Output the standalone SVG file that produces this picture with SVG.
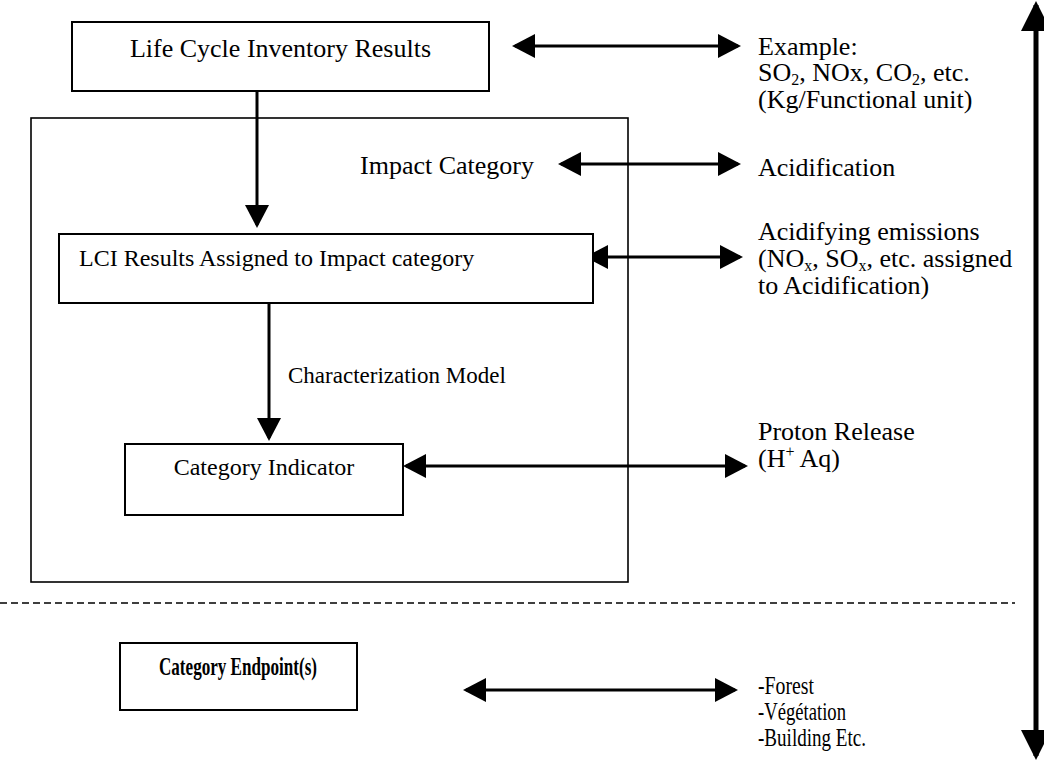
<svg xmlns="http://www.w3.org/2000/svg" width="1044" height="761" viewBox="0 0 1044 761">
<style>
text{font-family:"Liberation Serif","Times New Roman",serif;fill:#000}
.t26{font-size:26px}
.t24{font-size:24px}
.t23{font-size:23px}
.sub{font-size:16px}
.box{fill:#fff;stroke:#000;stroke-width:2}
.frame{fill:none;stroke:#000;stroke-width:1.6}
.con{stroke:#000;stroke-width:3;fill:none}
.big{stroke:#000;stroke-width:5;fill:none}
.dash{stroke:#000;stroke-width:1.6;stroke-dasharray:7 4;fill:none}
</style>
<defs>
<marker id="ah" viewBox="0 0 23 24" refX="20" refY="12" markerWidth="23" markerHeight="24" markerUnits="userSpaceOnUse" orient="auto-start-reverse">
<path d="M0,0 L23,12 L0,24 z" fill="#000"/>
</marker>
<marker id="ahBig" viewBox="0 0 30 30" refX="26" refY="15" markerWidth="30" markerHeight="30" markerUnits="userSpaceOnUse" orient="auto-start-reverse">
<path d="M0,0 L30,15 L0,30 z" fill="#000"/>
</marker>
</defs>

<g id="impact-frame">
<rect class="frame" x="31" y="118" width="597" height="464"/>
</g>

<g id="dashed-separator">
<line class="dash" x1="0" y1="603" x2="1015" y2="603"/>
</g>

<g id="connectors">
<line class="con" x1="515" y1="46" x2="738" y2="46" marker-start="url(#ah)" marker-end="url(#ah)"/>
<line class="con" x1="561" y1="164" x2="738" y2="164" marker-start="url(#ah)" marker-end="url(#ah)"/>
<line class="con" x1="588" y1="257" x2="740" y2="257" marker-start="url(#ah)" marker-end="url(#ah)"/>
<line class="con" x1="406" y1="466" x2="745" y2="466" marker-start="url(#ah)" marker-end="url(#ah)"/>
<line class="con" x1="466" y1="690" x2="735" y2="690" marker-start="url(#ah)" marker-end="url(#ah)"/>
<line class="con" x1="257" y1="91" x2="257" y2="225" marker-end="url(#ah)"/>
<line class="con" x1="269" y1="303" x2="269" y2="438" marker-end="url(#ah)"/>
<line class="big" x1="1036" y1="5" x2="1036" y2="756" marker-start="url(#ahBig)" marker-end="url(#ahBig)"/>
</g>

<g id="node-lci-results">
<rect class="box" x="72" y="22" width="417" height="69"/>
<text class="t26" x="280.5" y="57" text-anchor="middle">Life Cycle Inventory Results</text>
</g>

<g id="node-impact-category">
<text class="t26" x="360" y="174">Impact Category</text>
</g>

<g id="node-lci-assigned">
<rect class="box" x="59" y="234" width="534" height="69"/>
<text class="t24" x="79" y="266">LCI Results Assigned to Impact category</text>
</g>

<g id="node-characterization">
<text class="t23" x="288" y="383">Characterization Model</text>
</g>

<g id="node-category-indicator">
<rect class="box" x="125" y="444" width="278" height="71"/>
<text class="t24" x="264" y="475" text-anchor="middle">Category Indicator</text>
</g>

<g id="node-endpoint">
<rect class="box" x="120" y="643" width="237" height="67"/>
<text x="238" y="675" text-anchor="middle" font-size="26" font-weight="bold" textLength="158" lengthAdjust="spacingAndGlyphs">Category Endpoint(s)</text>
</g>

<g id="label-example">
<text class="t26" x="758" y="55">Example:</text>
<text class="t26" x="758" y="81">SO<tspan class="sub" dy="4">2</tspan><tspan dy="-4">, NOx, CO</tspan><tspan class="sub" dy="4">2</tspan><tspan dy="-4">, etc.</tspan></text>
<text class="t26" x="758" y="108">(Kg/Functional unit)</text>
</g>

<g id="label-acidification">
<text class="t26" x="758" y="176">Acidification</text>
</g>

<g id="label-acidifying">
<text class="t26" x="758" y="240">Acidifying emissions</text>
<text class="t26" x="758" y="267">(NO<tspan class="sub" dy="4">x</tspan><tspan dy="-4">, SO</tspan><tspan class="sub" dy="4">x</tspan><tspan dy="-4">, etc. assigned</tspan></text>
<text class="t26" x="758" y="294">to Acidification)</text>
</g>

<g id="label-proton">
<text class="t26" x="758" y="440">Proton Release</text>
<text class="t26" x="758" y="467">(H<tspan class="sub" dy="-10">+</tspan><tspan dy="10"> Aq)</tspan></text>
</g>

<g id="label-endpoints">
<text x="758" y="694" font-size="25" textLength="56" lengthAdjust="spacingAndGlyphs">-Forest</text>
<text x="758" y="720" font-size="25" textLength="88" lengthAdjust="spacingAndGlyphs">-Végétation</text>
<text x="758" y="746" font-size="25" textLength="108" lengthAdjust="spacingAndGlyphs">-Building Etc.</text>
</g>
</svg>
